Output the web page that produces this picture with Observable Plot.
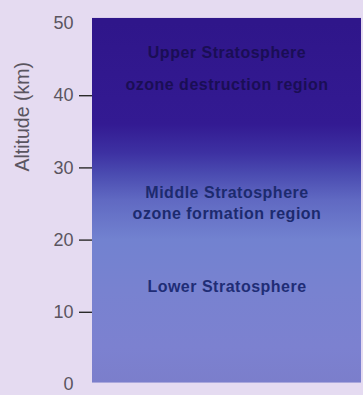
<!DOCTYPE html>
<html><head><meta charset="utf-8">
<script src="https://cdn.jsdelivr.net/npm/d3@7"></script>
<script src="https://cdn.jsdelivr.net/npm/@observablehq/plot@0.6"></script>
<style>
html,body{margin:0;padding:0;background:#e5dbf1;}
#chart svg{display:block;background:#e5dbf1;}
</style>
</head><body><div id="chart"></div>
<script>
// Axis values
const altTicks = [0, 10, 20, 30, 40, 50];
const tickMarks = [10, 20, 30, 40];
const axisTitle = "Altitude (km)";
const axisTitleAlt = 29.5;

// Stratosphere block extent (km)
const layerBottom = [0.2];
const layerTop = [50.7];

// Colour gradient stops by altitude (km)
const gradAlt = [0, 5, 13, 20, 25.5, 29, 32, 36, 50];
const gradColor = ["#7b7ecb", "#7c81d0", "#7882d0", "#7282d0", "#6069c2", "#4b4cb1", "#3d31a2", "#331a92", "#2f168a"];

// Region labels
const labelText = ["Upper Stratosphere", "ozone destruction region", "Middle Stratosphere", "ozone formation region", "Lower Stratosphere"];
const labelAlt = [45.9, 41.5, 26.6, 23.7, 13.5];
const labelColor = ["#1a0e55", "#1a0e55", "#1c2a6e", "#1c2a6e", "#1f2d76"];

const font = "Liberation Sans, Arial, sans-serif";

function gradientDefs(index, scales) {
  const defs = d3.create("svg:defs");
  const g = defs.append("linearGradient")
    .attr("id", "strat")
    .attr("gradientUnits", "userSpaceOnUse")
    .attr("x1", 0).attr("x2", 0)
    .attr("y1", scales.y(0)).attr("y2", scales.y(50));
  gradAlt.forEach((a, i) => g.append("stop").attr("offset", a / 50).attr("stop-color", gradColor[i]));
  return defs.node();
}

const labels = labelText.map((t, i) => ({text: t, alt: labelAlt[i], color: labelColor[i]}));

const svg = Plot.plot({
  width: 363,
  height: 395,
  marginLeft: 92,
  marginRight: 2,
  marginTop: 23,
  marginBottom: 11,
  style: {background: "#e5dbf1", fontFamily: font},
  x: {domain: [0, 1], axis: null},
  y: {domain: [0, 50], axis: null},
  color: {type: "identity"},
  marks: [
    gradientDefs,
    Plot.rect(layerBottom, {x1: 0, x2: 1, y1: d => d, y2: (d, i) => layerTop[i], fill: "url(#strat)"}),
    Plot.text(labels, {x: 0.5, y: "alt", text: "text", fill: "color", fontWeight: "bold", fontSize: 16, fontFamily: font}),
    Plot.axisY(altTicks, {tickSize: 0, tickPadding: 19, fontSize: 18, fill: "#5a5560", label: null, fontFamily: font}),
    Plot.axisY(tickMarks, {text: null, tickSize: 13, stroke: "#2a2a2a", strokeWidth: 1.4, label: null}),
    Plot.text([axisTitle], {frameAnchor: "left", dx: -70, y: () => axisTitleAlt, rotate: -90, fontSize: 19.5, fill: "#5a5560", fontFamily: font})
  ]
});
d3.select(svg).selectAll("text").filter(function(){ return this.getAttribute("font-weight") === "bold" || this.parentNode.getAttribute("font-weight") === "bold"; }).attr("letter-spacing", "0.5px");
document.getElementById("chart").appendChild(svg);
</script>
</body></html>
